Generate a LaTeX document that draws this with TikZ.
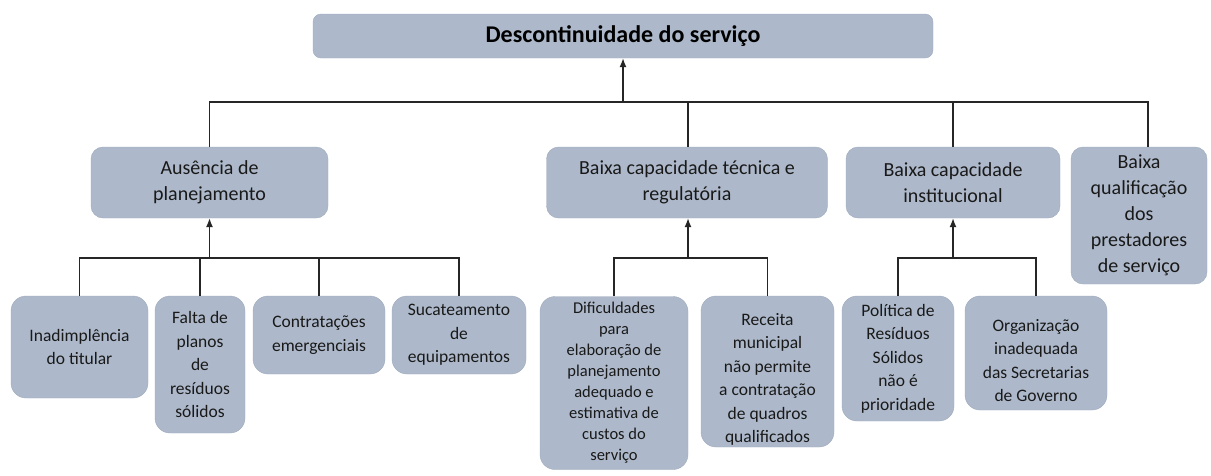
\documentclass[tikz,border=0pt]{standalone}
\usepackage{fontspec}
\setmainfont{Carlito}
\usepackage{tikz}
\usetikzlibrary{shapes, arrows.meta}
\usepackage{xcolor}
\definecolor{boxfill}{HTML}{ADB9CA}
\definecolor{boxline}{HTML}{9FABBC}

\tikzset{
    topbox/.style={rectangle, rounded corners=8pt, fill=boxfill, draw=boxline, text=black, font=\fontsize{24}{29}\selectfont\bfseries},
    causebox/.style={rectangle, rounded corners=12pt, fill=boxfill, draw=boxline, align=center, text=black!90, font=\fontsize{20}{26}\selectfont},
    subbox/.style={rectangle, rounded corners=15pt, fill=boxfill, draw=boxline, align=center, text=black!90, font=\fontsize{17.5}{23.5}\selectfont},
    link/.style={draw=black!85, line width=1.3pt},
}

\begin{document}
\begin{tikzpicture}[x=1pt, y=-1pt, >={Latex[length=9pt, width=7pt]}]
    \useasboundingbox (0,0) rectangle (1211,475);

    \node (desc) [topbox, minimum width=620pt, minimum height=44pt] at (623,36) {Descontinuidade do serviço};

    \node (aus) [causebox, minimum width=237pt, minimum height=71pt] at (209.5,182.5) {Ausência de\\planejamento};
    \node (tec) [causebox, minimum width=281pt, minimum height=71pt] at (687,182.5) {Baixa capacidade técnica e\\regulatória};
    \node (inst) [causebox, minimum width=214pt, minimum height=71pt] at (953,182.5) {Baixa capacidade\\institucional};
    \node (qual) [causebox, minimum width=136pt, minimum height=137pt] at (1139,215.5) {Baixa\\qualificação\\dos\\prestadores\\de serviço};

    \node (inad) [subbox, minimum width=137pt, minimum height=102pt] at (79.5,347) {Inadimplência\\do titular};
    \node (falta) [subbox, minimum width=90pt, minimum height=137pt] at (200,364.5) {Falta de\\planos\\de\\resíduos\\sólidos};
    \node (contr) [subbox, minimum width=132pt, minimum height=78pt] at (319,335) {Contratações\\emergenciais};
    \node (suca) [subbox, minimum width=134pt, minimum height=78pt] at (459,335) {Sucateamento\\de\\equipamentos};

    \node (dific) [subbox, minimum width=148pt, minimum height=173pt, font=\fontsize{16.5}{21}\selectfont] at (614,383) {Dificuldades\\para\\elaboração de\\planejamento\\adequado e\\estimativa de\\custos do\\serviço};
    \node (rec) [subbox, minimum width=133pt, minimum height=151pt, inner ysep=0pt] at (767.5,371.5) {\rule{0pt}{27.5pt}Receita\\municipal\\não permite\\a contratação\\de quadros\\qualificados};

    \node (pol) [subbox, minimum width=112pt, minimum height=125pt] at (898,358.5) {Política de\\Resíduos\\Sólidos\\não é\\prioridade};
    \node (org) [subbox, minimum width=142pt, minimum height=114pt] at (1036,353) {\rule{0pt}{27.5pt}Organização\\inadequada\\das Secretarias\\de Governo};

    \coordinate (bus) at (623,102);
    \coordinate (ausbus) at (209.5,258);
    \coordinate (tecbus) at (688,258);
    \coordinate (instbus) at (953,258);

    \draw [link, ->] (bus) -- (desc);
    \draw [link] (aus.north) |- (bus) -| ([xshift=9pt]qual.north);
    \draw [link] ([xshift=1pt]tec.north) -- ([xshift=1pt]tec.north |- bus);
    \draw [link] (inst.north) -- (inst.north |- bus);

    \draw [link, ->] (ausbus) -- (aus.south);
    \draw [link] (inad.north) |- (ausbus) -| (suca.north);
    \draw [link] (falta.north) -- (falta.north |- ausbus);
    \draw [link] (contr.north) -- (contr.north |- ausbus);

    \draw [link, ->] (tecbus) -- (tecbus |- tec.south);
    \draw [link] (dific.north) |- (tecbus) -| (rec.north);

    \draw [link, ->] (instbus) -- (inst.south);
    \draw [link] (pol.north) |- (instbus) -| (org.north);
\end{tikzpicture}
\end{document}
